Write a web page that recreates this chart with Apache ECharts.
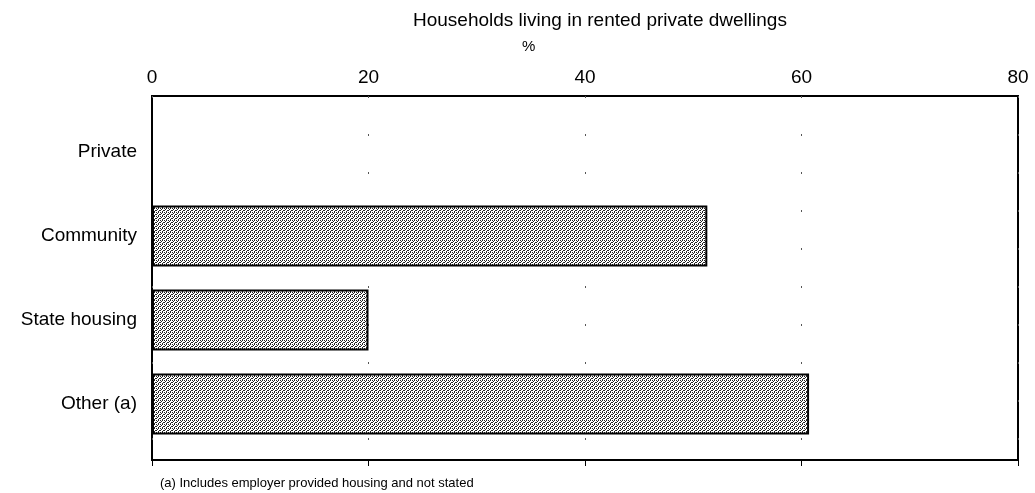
<!DOCTYPE html>
<html>
<head>
<meta charset="utf-8">
<script src="https://cdn.jsdelivr.net/npm/echarts@6/dist/echarts.min.js"></script>
<style>
  html, body { margin: 0; padding: 0; background: #fff; }
  #chart { width: 1035px; height: 493px; }
</style>
</head>
<body>
<div id="chart"></div>
<script>
// Dwelling landlord types and share of households (%)
const categories = ['Private', 'Community', 'State housing', 'Other (a)'];
const shares = [0, 51.3, 20.0, 60.7];
const xTicks = [0, 20, 40, 60, 80];
const axisTitle = 'Households living in rented private dwellings';
const axisUnit = '%';
const footnote = '(a) Includes employer provided housing and not stated';

// Stippled grey fill for the bars: sparse dots on white
function stipple() {
  const c = document.createElement('canvas');
  c.width = 4; c.height = 4;
  const g = c.getContext('2d');
  g.fillStyle = '#fff';
  g.fillRect(0, 0, 4, 4);
  g.fillStyle = '#222';
  const dots = [[0, 0], [2, 0], [1, 1], [3, 2], [0, 2], [2, 3]];
  dots.forEach(([x, y]) => g.fillRect(x, y, 1, 1));
  return c;
}

const font = '"Liberation Sans", Arial, sans-serif';
const chart = echarts.init(document.getElementById('chart'), null, { renderer: 'canvas' });

chart.setOption({
  animation: false,
  backgroundColor: '#fff',
  textStyle: { fontFamily: font, color: '#000' },
  title: [
    { text: axisTitle, left: 408, top: 6, textStyle: { fontFamily: font, fontSize: 19, fontWeight: 'normal', color: '#000' } },
    { text: axisUnit, left: 517, top: 34, textStyle: { fontFamily: font, fontSize: 15, fontWeight: 'normal', color: '#000' } },
    { text: footnote, left: 155, top: 472, textStyle: { fontFamily: font, fontSize: 13, fontWeight: 'normal', color: '#000' } }
  ],
  grid: [
    // bar area
    { left: 152, right: 17, top: 110, bottom: 47 },
    // framed plot area
    { left: 152, right: 17, top: 96, bottom: 33, show: true, borderColor: '#000', borderWidth: 2, backgroundColor: 'transparent' }
  ],
  xAxis: [
    {
      gridIndex: 1, type: 'value', position: 'top', min: 0, max: 80, interval: 20,
      axisLine: { show: true, lineStyle: { color: '#000', width: 2 } },
      axisTick: { show: true, inside: true, length: 6, lineStyle: { color: '#000', width: 1 } },
      axisLabel: { show: true, margin: 9, fontSize: 19, color: '#000', fontFamily: font,
        formatter: v => xTicks.includes(v) ? String(v) : '' },
      splitLine: { show: true, lineStyle: { color: '#555', width: 1, type: [2, 36] } }
    },
    {
      gridIndex: 0, type: 'value', min: 0, max: 80, interval: 20, show: false,
      splitLine: { show: false }
    }
  ],
  yAxis: [
    {
      gridIndex: 1, type: 'value', show: false, splitLine: { show: false }
    },
    {
      gridIndex: 0, type: 'category', data: categories, inverse: true,
      axisLine: { show: false }, axisTick: { show: false },
      axisLabel: { margin: 15, fontSize: 19, color: '#000', fontFamily: font }
    }
  ],
  series: [{
    type: 'bar',
    xAxisIndex: 1,
    yAxisIndex: 1,
    data: shares,
    barWidth: 61,
    itemStyle: {
      color: { image: stipple(), repeat: 'repeat' },
      borderColor: '#000',
      borderWidth: 2
    }
  }]
});
</script>
</body>
</html>
